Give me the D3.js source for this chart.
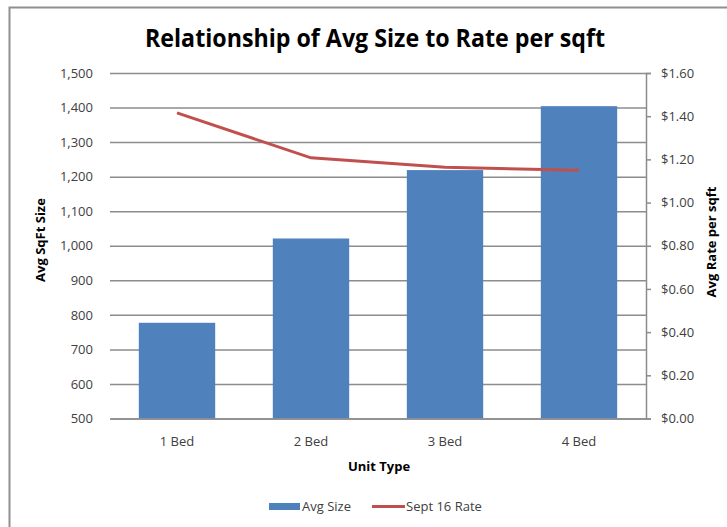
<!DOCTYPE html>
<html lang="en">
  <head>
    <meta charset="UTF-8" />
    <title>Relationship of Avg Size to Rate per sqft</title>
    <style>
      body { margin: 0; background: #fff; }
      svg text { font-family: "Open Sans", "Noto Sans", sans-serif; }
      .tick text { fill: #404040; font-size: 13px; }
    </style>
  </head>
  <body>
    <div id="chart"></div>

    <script src="https://d3js.org/d3.v7.min.js"></script>
    <script>
      // data
      const unitTypes = ["1 Bed", "2 Bed", "3 Bed", "4 Bed"];
      const avgSize = [777, 1021, 1219, 1404];
      const sept16Rate = [1.415, 1.207, 1.163, 1.15];
      const sizeTicks = [500, 600, 700, 800, 900, 1000, 1100, 1200, 1300, 1400, 1500];
      const rateTicks = [0, 0.2, 0.4, 0.6, 0.8, 1.0, 1.2, 1.4, 1.6];

      const w = 727;
      const h = 527;
      const plotLeft = 110, plotRight = 646, plotTop = 73, plotBottom = 418.5;

      const svg = d3
        .select("#chart")
        .append("svg")
        .attr("width", w)
        .attr("height", h);

      // chart frame (only top and left edges show)
      svg
        .append("path")
        .attr("d", `M9.5,${h} V7.5 H${w}`)
        .attr("fill", "none")
        .attr("stroke", "#8f8f8f")
        .attr("stroke-width", 2);

      const xScale = d3
        .scaleBand()
        .domain(unitTypes)
        .range([plotLeft, plotRight])
        .paddingInner(0.43)
        .paddingOuter(0.215);

      const ySize = d3.scaleLinear().domain([500, 1500]).range([plotBottom, plotTop]);
      const yRate = d3.scaleLinear().domain([0, 1.6]).range([plotBottom, plotTop]);

      // gridlines
      const grid = svg
        .append("g")
        .attr("transform", `translate(${plotLeft},0)`)
        .call(d3.axisLeft(ySize).tickValues(sizeTicks).tickSize(-(plotRight - plotLeft)).tickFormat(""));
      grid.select(".domain").remove();
      grid.selectAll(".tick line").attr("stroke", "#8c8c8c").attr("stroke-width", 1.5);

      // left axis labels
      const yAxisL = svg
        .append("g")
        .attr("transform", `translate(${plotLeft},0)`)
        .call(d3.axisLeft(ySize).tickValues(sizeTicks).tickSize(0).tickPadding(17).tickFormat(d3.format(",")));
      yAxisL.select(".domain").remove();

      // bars
      svg
        .selectAll("rect.bar")
        .data(avgSize)
        .enter()
        .append("rect")
        .attr("class", "bar")
        .attr("x", (d, i) => xScale(unitTypes[i]))
        .attr("y", (d) => ySize(d))
        .attr("width", xScale.bandwidth())
        .attr("height", (d) => plotBottom - ySize(d))
        .attr("fill", "#4f81bd");

      // x axis
      const xAxis = svg
        .append("g")
        .attr("transform", `translate(0,${plotBottom})`)
        .call(d3.axisBottom(xScale).tickSize(0).tickPadding(18));
      xAxis.select(".domain").attr("stroke", "#8c8c8c").attr("stroke-width", 1.5);

      // right axis
      const yAxisR = svg
        .append("g")
        .attr("transform", `translate(${plotRight},0)`)
        .call(d3.axisRight(yRate).tickValues(rateTicks).tickSize(5).tickPadding(10).tickFormat(d3.format("$.2f")));
      yAxisR.select(".domain").attr("stroke", "#8c8c8c").attr("stroke-width", 1.5);
      yAxisR.selectAll(".tick line").attr("stroke", "#8c8c8c").attr("stroke-width", 1.5);
      yAxisR.selectAll(".tick text").attr("text-anchor", "start");

      // rate line
      const line = d3
        .line()
        .x((d, i) => xScale(unitTypes[i]) + xScale.bandwidth() / 2)
        .y((d) => yRate(d));

      svg
        .append("path")
        .datum(sept16Rate)
        .attr("d", line)
        .attr("fill", "none")
        .attr("stroke", "#c0504d")
        .attr("stroke-width", 3);

      // title
      svg
        .append("text")
        .attr("x", 375)
        .attr("y", 47)
        .attr("text-anchor", "middle")
        .attr("font-size", 25)
        .attr("font-weight", "bold")
        .attr("fill", "#000")
        .attr("textLength", 460)
        .attr("lengthAdjust", "spacingAndGlyphs")
        .text("Relationship of Avg Size to Rate per sqft");

      // axis titles
      svg
        .append("text")
        .attr("transform", "translate(45,240) rotate(-90)")
        .attr("text-anchor", "middle")
        .attr("font-size", 13)
        .attr("font-weight", "bold")
        .attr("fill", "#000")
        .text("Avg SqFt Size");

      svg
        .append("text")
        .attr("transform", "translate(716,242) rotate(-90)")
        .attr("text-anchor", "middle")
        .attr("font-size", 13)
        .attr("font-weight", "bold")
        .attr("fill", "#000")
        .text("Avg Rate per sqft");

      svg
        .append("text")
        .attr("x", 379)
        .attr("y", 471)
        .attr("text-anchor", "middle")
        .attr("font-size", 13)
        .attr("font-weight", "bold")
        .attr("fill", "#000")
        .text("Unit Type");

      // legend
      const legend = svg.append("g");
      legend
        .append("rect")
        .attr("x", 269)
        .attr("y", 503)
        .attr("width", 31)
        .attr("height", 7)
        .attr("fill", "#4f81bd");
      legend
        .append("text")
        .attr("x", 302)
        .attr("y", 511)
        .attr("font-size", 13)
        .attr("fill", "#404040")
        .text("Avg Size");
      legend
        .append("line")
        .attr("x1", 372)
        .attr("x2", 405)
        .attr("y1", 506.5)
        .attr("y2", 506.5)
        .attr("stroke", "#c0504d")
        .attr("stroke-width", 3);
      legend
        .append("text")
        .attr("x", 406)
        .attr("y", 511)
        .attr("font-size", 13)
        .attr("fill", "#404040")
        .text("Sept 16 Rate");
    </script>
  </body>
</html>
